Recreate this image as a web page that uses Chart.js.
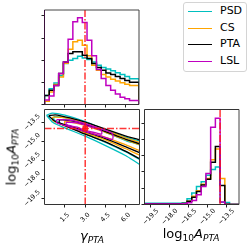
<!DOCTYPE html>
<html>
<head>
<meta charset="utf-8">
<script src="https://cdn.jsdelivr.net/npm/chart.js@4.4.1/dist/chart.umd.min.js"></script>
<style>
  html, body { margin: 0; padding: 0; background: #fff; }
  #wrap { position: relative; width: 249px; height: 249px; overflow: hidden; font-family: "DejaVu Sans", sans-serif; }
  canvas { position: absolute; left: 0; top: 0; }
  .lab { position: absolute; font-size: 13px; line-height: 13px; white-space: nowrap; color: #000; }
  .lab sub { font-size: 70%; vertical-align: -0.3em; line-height: 0; }
  #legend { position: absolute; left: 183px; top: 2px; width: 64px; height: 70px; box-sizing: border-box;
            border: 1px solid #d4d4d4; border-radius: 3px; background: #fff; }
  .sw { position: absolute; left: 4px; width: 24px; height: 0; border-top: 1.6px solid; }
  .tx { position: absolute; left: 36px; font-size: 11px; line-height: 12px; }
</style>
</head>
<body>
<div id="wrap">
  <canvas id="tl" width="249" height="249"></canvas>
  <canvas id="bl" width="249" height="249"></canvas>
  <canvas id="br" width="249" height="249"></canvas>
  <div class="lab" id="ylab" style="left:11px;top:157px;transform:translate(-50%,-50%) rotate(-90deg);">log<sub>10</sub><i>A</i><sub><i>PTA</i></sub></div>
  <div class="lab" style="left:92px;top:229px;transform:translateX(-50%);"><i>γ</i><sub><i>PTA</i></sub></div>
  <div class="lab" style="left:191px;top:227px;transform:translateX(-50%);">log<sub>10</sub><i>A</i><sub><i>PTA</i></sub></div>
  <div id="legend"></div>
</div>
<script>
// series
const seriesNames = ['PSD', 'CS', 'PTA', 'LSL'];
const seriesColors = ['#00bfbf', '#ffa500', '#000000', '#c000c0'];

// axes
const gammaRange = [0, 7];
const logARange = [-20, -12.5];
const gammaTicks = [1.5, 3.0, 4.5, 6.0];
const logATicks = [-19.5, -18.0, -16.5, -15.0, -13.5];
const histTicksTop = [0, 1, 2, 3, 4];
const histTicksRight = [0, 1, 2, 3, 4, 5];
const histMaxTop = 4.27;
const histMaxRight = 5.83;
const truthGamma = 3.0;
const truthLogA = -14.0;

// gamma histograms (20 bins over gammaRange)
const gammaPSD = [0.26, 0.41, 0.71, 0.97, 1.3, 1.85, 2.0, 2.08, 2.18, 2.1, 2.03, 1.92, 1.77, 1.67, 1.6, 1.52, 1.44, 1.36, 1.26, 1.16];
const gammaCS  = [0.05, 0.15, 0.56, 0.9, 1.24, 1.86, 2.5, 2.83, 2.9, 2.68, 2.2, 1.77, 1.55, 1.36, 1.24, 1.14, 1.06, 0.98, 0.92, 0.86];
const gammaPTA = [0.21, 0.41, 0.64, 0.86, 1.4, 1.92, 2.3, 2.38, 2.38, 2.23, 2.08, 1.85, 1.67, 1.55, 1.42, 1.35, 1.26, 1.17, 1.08, 1.01];
const gammaLSL = [0.08, 0.2, 0.38, 0.86, 1.4, 1.92, 2.95, 3.74, 3.92, 3.7, 2.9, 2.2, 1.58, 1.17, 0.86, 0.64, 0.48, 0.33, 0.26, 0.18];

// log10 A histograms (20 bins over logARange)
const logAPSD = [0.08, 0.08, 0.08, 0.08, 0.08, 0.08, 0.08, 0.08, 0.08, 0.1, 0.35, 0.7, 1.1, 1.4, 1.8, 2.15, 2.3, 0.14, 0.12, 0.02];
const logACS  = [0.04, 0.04, 0.04, 0.04, 0.04, 0.04, 0.04, 0.04, 0.04, 0.06, 0.2, 0.5, 0.85, 1.25, 1.6, 2.75, 3.4, 1.6, 0.02, 0];
const logAPTA = [0.04, 0.04, 0.04, 0.04, 0.04, 0.04, 0.04, 0.04, 0.04, 0.06, 0.2, 0.45, 0.8, 1.2, 1.55, 2.6, 3.56, 1.17, 0.02, 0];
const logALSL = [0.03, 0.03, 0.03, 0.03, 0.03, 0.03, 0.03, 0.03, 0.03, 0.05, 0.1, 0.25, 0.6, 1.1, 1.9, 4.74, 5.3, 0.15, 0, 0];

// 2D contours, [gamma, log10A] outlines: outer then inner
const contPSD = [
  [[0.15,-12.95],[0.6,-12.78],[1.5,-12.95],[3.0,-13.45],[4.5,-14.1],[6.0,-14.7],[7.6,-15.3],
   [7.6,-17.1],[6.0,-16.15],[4.5,-15.35],[3.0,-14.6],[1.5,-13.95],[0.6,-13.5],[0.15,-12.95]],
  [[0.7,-13.05],[1.5,-13.15],[3.0,-13.65],[4.5,-14.3],[6.0,-14.95],[7.6,-15.6],
   [7.6,-16.7],[6.0,-15.85],[4.5,-15.1],[3.0,-14.4],[1.5,-13.75],[0.7,-13.3],[0.7,-13.05]]
];
const contCS = [
  [[0.6,-13.1],[1.5,-13.15],[3.0,-13.58],[4.5,-14.15],[6.0,-14.75],[7.6,-15.4],
   [7.6,-16.3],[6.0,-15.6],[4.5,-14.9],[3.0,-14.35],[1.5,-13.8],[0.6,-13.35],[0.6,-13.1]],
  [[1.5,-13.4],[3.0,-13.75],[4.5,-14.3],[6.0,-14.9],[7.6,-15.55],
   [7.6,-15.95],[6.0,-15.3],[4.5,-14.7],[3.0,-14.2],[1.5,-13.7],[1.5,-13.4]]
];
const contPTA = [
  [[0.3,-13.0],[0.8,-12.92],[2.0,-13.2],[3.0,-13.5],[4.5,-14.05],[6.0,-14.6],[7.6,-15.2],
   [7.6,-16.6],[6.0,-15.8],[4.5,-15.05],[3.0,-14.45],[2.0,-14.0],[0.8,-13.45],[0.3,-13.0]],
  [[1.1,-13.3],[2.0,-13.4],[3.0,-13.7],[4.5,-14.25],[6.0,-14.85],[7.6,-15.5],
   [7.6,-16.1],[6.0,-15.45],[4.5,-14.8],[3.0,-14.25],[2.0,-13.85],[1.1,-13.55],[1.1,-13.3]]
];
const contLSL = [
  [[0.9,-13.3],[1.8,-13.33],[3.0,-13.62],[4.2,-14.05],[5.0,-14.4],
   [5.0,-14.85],[4.2,-14.6],[3.0,-14.25],[1.8,-13.85],[0.9,-13.55],[0.9,-13.3]],
  [[1.6,-13.5],[2.4,-13.55],[3.0,-13.75],[3.8,-14.0],[4.2,-14.2],
   [4.2,-14.45],[3.8,-14.35],[3.0,-14.15],[2.4,-13.9],[1.6,-13.7],[1.6,-13.5]]
];

const gammaHists = [gammaPSD, gammaCS, gammaPTA, gammaLSL];
const logAHists = [logAPSD, logACS, logAPTA, logALSL];
const contours = [contPSD, contCS, contPTA, contLSL];

const RED = 'rgba(255,20,20,0.85)';
const DASHDOT = [7, 2, 1.5, 2];

function fmt(v) {
  return (v < 0 ? '\u2212' : '') + Math.abs(v).toFixed(1);
}

// step outline of a histogram, closed down to zero at both ends
function histPoints(range, vals) {
  const w = (range[1] - range[0]) / vals.length;
  const pts = [{ x: range[0], y: 0 }];
  vals.forEach((v, i) => pts.push({ x: range[0] + i * w, y: v }));
  pts.push({ x: range[1], y: vals[vals.length - 1] }, { x: range[1], y: 0 });
  return pts;
}

function histSets(range, hists) {
  // last series on top -> put it first
  return hists.map((h, i) => ({
    data: histPoints(range, h), showLine: true, stepped: 'after',
    borderColor: seriesColors[i], borderWidth: 1.5, pointRadius: 0
  })).reverse();
}

const framePlugin = {
  id: 'frame',
  afterDatasetsDraw(chart, args, o) {
    const a = chart.chartArea, ctx = chart.ctx;
    const side = (x1, y1, x2, y2, c) => {
      ctx.beginPath(); ctx.strokeStyle = c; ctx.moveTo(x1, y1); ctx.lineTo(x2, y2); ctx.stroke();
    };
    ctx.save();
    ctx.lineWidth = 1;
    side(a.left, a.top, a.right, a.top, o.top);
    side(a.right, a.top, a.right, a.bottom, o.right);
    side(a.left, a.bottom, a.right, a.bottom, o.bottom);
    side(a.left, a.top, a.left, a.bottom, o.left);
    ctx.restore();
  }
};

const rotLabelPlugin = {
  id: 'rotLabels',
  afterDraw(chart, args, o) {
    const ctx = chart.ctx, a = chart.chartArea, fs = 6.5;
    ctx.save();
    ctx.font = fs + 'px "DejaVu Sans"';
    ctx.fillStyle = '#000';
    ctx.textAlign = 'center';
    ctx.textBaseline = 'middle';
    const half = s => (ctx.measureText(s).width + fs) / (2 * Math.SQRT2);
    const put = (s, x, y) => {
      ctx.save(); ctx.translate(x, y); ctx.rotate(-Math.PI / 4); ctx.fillText(s, 0, 0); ctx.restore();
    };
    if (o.x !== undefined) {
      chart.scales.x.ticks.forEach(t => {
        const s = fmt(t.value);
        put(s, chart.scales.x.getPixelForValue(t.value), a.bottom + o.x + half(s));
      });
    }
    if (o.y !== undefined) {
      chart.scales.y.ticks.forEach(t => {
        const s = fmt(t.value);
        put(s, a.left - o.y - half(s), chart.scales.y.getPixelForValue(t.value));
      });
    }
    ctx.restore();
  }
};

function axis(range, ticks, horiz) {
  return {
    type: 'linear', min: range[0], max: range[1],
    afterBuildTicks: s => { s.ticks = ticks.map(v => ({ value: v })); },
    afterFit: s => { if (horiz) s.height = 0; else s.width = 0; },
    ticks: { display: false },
    border: { display: false },
    grid: { drawOnChartArea: false, drawTicks: true, tickLength: 3, tickWidth: 1, tickColor: '#222' }
  };
}

function panel(id, area, xr, xt, yr, yt, datasets, frame, labels) {
  return new Chart(document.getElementById(id), {
    type: 'scatter',
    data: { datasets },
    options: {
      responsive: false, animation: false, events: [], devicePixelRatio: 1,
      layout: { padding: { left: area[0], top: area[1], right: 249 - area[2], bottom: 249 - area[3] } },
      scales: { x: axis(xr, xt, true), y: axis(yr, yt, false) },
      plugins: { legend: { display: false }, tooltip: { enabled: false }, frame, rotLabels: labels }
    },
    plugins: [framePlugin, rotLabelPlugin]
  });
}

function redLine(points) {
  return { data: points, showLine: true, borderColor: RED, borderWidth: 1.5, borderDash: DASHDOT, pointRadius: 0 };
}

// top-left: gamma marginal
panel('tl', [44.5, 10, 139, 104.5], gammaRange, gammaTicks, [0, histMaxTop], histTicksTop,
  [redLine([{ x: truthGamma, y: 0 }, { x: truthGamma, y: histMaxTop }])].concat(histSets(gammaRange, gammaHists)),
  { top: '#444', right: '#444', bottom: '#333', left: '#3a103a' }, {});

// bottom-left: 2D contours
const contourSets = [];
contours.forEach((levels, i) => {
  levels.forEach(line => {
    contourSets.push({
      data: line.map(p => ({ x: p[0], y: p[1] })), showLine: true, tension: 0.25,
      borderColor: seriesColors[i], borderWidth: 1.3, pointRadius: 0
    });
  });
});
panel('bl', [44.5, 109.5, 139.5, 204.5], gammaRange, gammaTicks, logARange, logATicks,
  [
    { data: [{ x: truthGamma, y: truthLogA }], pointStyle: 'rect', pointRadius: 3.2, backgroundColor: RED, borderColor: RED },
    redLine([{ x: truthGamma, y: logARange[0] }, { x: truthGamma, y: logARange[1] }]),
    redLine([{ x: gammaRange[0], y: truthLogA }, { x: gammaRange[1], y: truthLogA }])
  ].concat(contourSets.reverse()),
  { top: '#333', right: '#333', bottom: '#333', left: '#333' }, { x: 7, y: 3 });

// bottom-right: log10 A marginal
panel('br', [144.5, 109.5, 239, 204.5], logARange, logATicks, [0, histMaxRight], histTicksRight,
  [redLine([{ x: truthLogA, y: 0 }, { x: truthLogA, y: histMaxRight }])].concat(histSets(logARange, logAHists)),
  { top: '#333', right: '#444', bottom: '#333', left: '#333' }, { x: 3 });

// legend
const legend = document.getElementById('legend');
seriesNames.forEach((name, i) => {
  const cy = 8 + i * 16.6;
  const sw = document.createElement('div');
  sw.className = 'sw';
  sw.style.top = cy + 'px';
  sw.style.borderTopColor = seriesColors[i];
  const tx = document.createElement('div');
  tx.className = 'tx';
  tx.style.top = (cy - 6) + 'px';
  tx.textContent = name;
  legend.appendChild(sw);
  legend.appendChild(tx);
});
</script>
</body>
</html>
